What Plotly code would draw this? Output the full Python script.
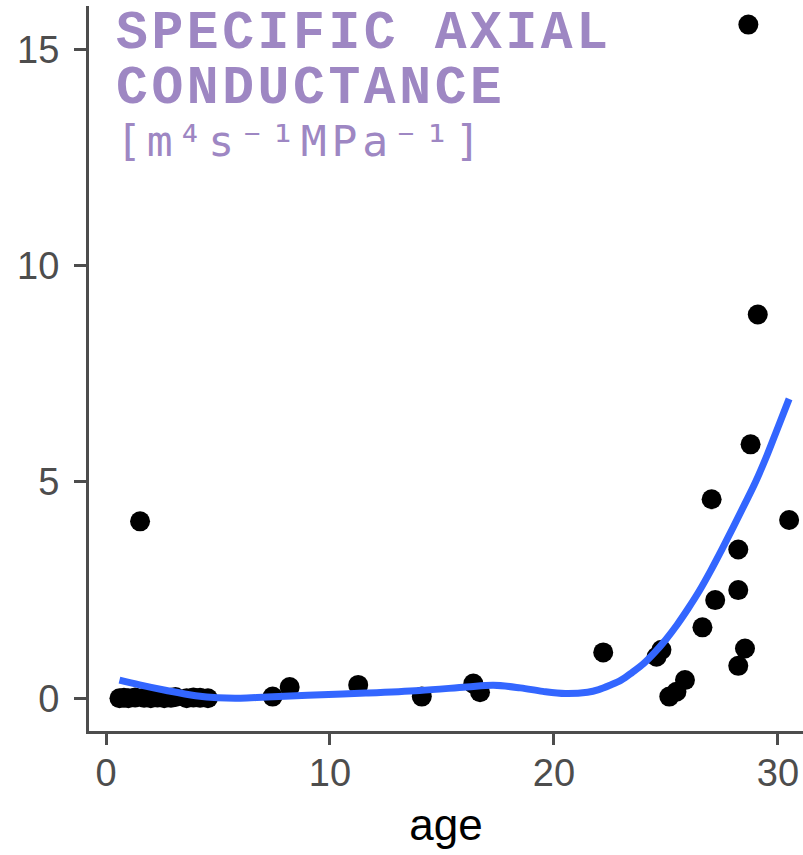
import plotly.graph_objects as go

# observed points
age = [0.6, 0.8, 1.0, 1.3, 1.52, 1.7, 2.0, 2.3, 2.6, 2.9, 3.1, 3.6, 3.9, 4.2, 4.55,
       7.44, 8.2, 11.26, 14.1, 16.4, 16.7, 22.2, 24.58, 24.8, 25.15, 25.47, 25.85,
       26.63, 27.04, 27.2, 28.23, 28.23, 28.23, 28.53, 28.68, 28.78, 29.1, 30.5]
conductance = [0.0, 0.01, 0.0, 0.02, 4.09, 0.01, 0.0, 0.02, 0.0, 0.01, 0.03, 0.0, 0.02, 0.01, 0.0,
               0.04, 0.26, 0.31, 0.04, 0.34, 0.14, 1.06, 0.96, 1.12, 0.04, 0.15, 0.42,
               1.64, 4.6, 2.27, 3.44, 2.5, 0.75, 1.15, 15.57, 5.87, 8.87, 4.12]

# smoothed trend
smooth_x = [0.6, 1.5, 2.7, 4.0, 5.0, 6.0, 7.2, 9.0, 11.6, 14.0, 16.1, 17.3, 18.5, 19.5,
            20.5, 21.5, 22.0, 22.5, 23.0, 23.5, 24.0, 24.5, 25.0, 25.5, 26.0, 26.5,
            27.0, 27.5, 28.0, 28.5, 29.0, 29.5, 30.0, 30.5]
smooth_y = [0.42, 0.31, 0.18, 0.06, 0.01, 0.0, 0.03, 0.07, 0.12, 0.18, 0.26, 0.30, 0.24, 0.16,
            0.11, 0.14, 0.20, 0.30, 0.42, 0.60, 0.80, 1.06, 1.36, 1.70, 2.08, 2.49,
            2.95, 3.44, 3.95, 4.47, 5.00, 5.60, 6.26, 6.92]

x_ticks = [0, 10, 20, 30]
y_ticks = [0, 5, 10, 15]

title_line1 = "SPECIFIC AXIAL"
title_line2 = "CONDUCTANCE"
title_line3 = "[m\u2074s\u207b\u00b9MPa\u207b\u00b9]"

purple = "#9E87C3"
axis_grey = "#4D4D4D"

fig = go.Figure()
fig.add_trace(go.Scatter(x=age, y=conductance, mode="markers",
                         marker=dict(color="black", size=20, line=dict(width=0)),
                         showlegend=False, hoverinfo="skip"))
fig.add_trace(go.Scatter(x=smooth_x, y=smooth_y, mode="lines",
                         line=dict(color="#3366FF", width=7, shape="spline", smoothing=1.0),
                         showlegend=False, hoverinfo="skip"))

W, H = 803, 855
L, R, T, B = 89, 0, 6, 124
pw, ph = W - L - R, H - T - B

def px_x(p):
    return (p - L) / pw

def px_y(p):
    return (H - B - p) / ph

mono_bold = "Liberation Mono"
mono = "DejaVu Sans Mono"
fig.add_annotation(text='<b><span style="letter-spacing:3.6px">' + title_line1 + '</span></b>',
                   xref="paper", yref="paper", x=px_x(114), y=px_y(2),
                   xanchor="left", yanchor="top", showarrow=False,
                   font=dict(family=mono_bold, size=53, color=purple))
fig.add_annotation(text='<b><span style="letter-spacing:3.6px">' + title_line2 + '</span></b>',
                   xref="paper", yref="paper", x=px_x(114), y=px_y(57),
                   xanchor="left", yanchor="top", showarrow=False,
                   font=dict(family=mono_bold, size=53, color=purple))
fig.add_annotation(text='<span style="letter-spacing:4.9px">' + title_line3 + '</span>',
                   xref="paper", yref="paper", x=px_x(114), y=px_y(114),
                   xanchor="left", yanchor="top", showarrow=False,
                   font=dict(family=mono, size=43, color=purple))

fig.update_layout(
    width=W, height=H,
    margin=dict(l=L, r=R, t=T, b=B, pad=0, autoexpand=False),
    paper_bgcolor="white", plot_bgcolor="white",
    xaxis=dict(range=[-0.76, 31.12], tickvals=x_ticks, ticktext=[str(v) for v in x_ticks],
               showgrid=False, zeroline=False, showline=True, linecolor=axis_grey, linewidth=3,
               ticks="outside", ticklen=11, tickwidth=3, tickcolor=axis_grey,
               ticklabelstandoff=-5, automargin=False,
               tickfont=dict(family="Liberation Sans", size=38, color=axis_grey),
               title=dict(text="age", font=dict(family="Liberation Sans", size=44, color="black"),
                          standoff=17)),
    yaxis=dict(range=[-0.756, 16.0], tickvals=y_ticks, ticktext=[str(v) for v in y_ticks],
               showgrid=False, zeroline=False, showline=True, linecolor=axis_grey, linewidth=3,
               ticks="outside", ticklen=12, tickwidth=3, tickcolor=axis_grey,
               ticklabelstandoff=7, automargin=False,
               tickfont=dict(family="Liberation Sans", size=38, color=axis_grey)),
)

fig.write_html("out.html", config={"displayModeBar": False},
               post_script="document.body.style.margin='0';document.body.style.padding='0';")
